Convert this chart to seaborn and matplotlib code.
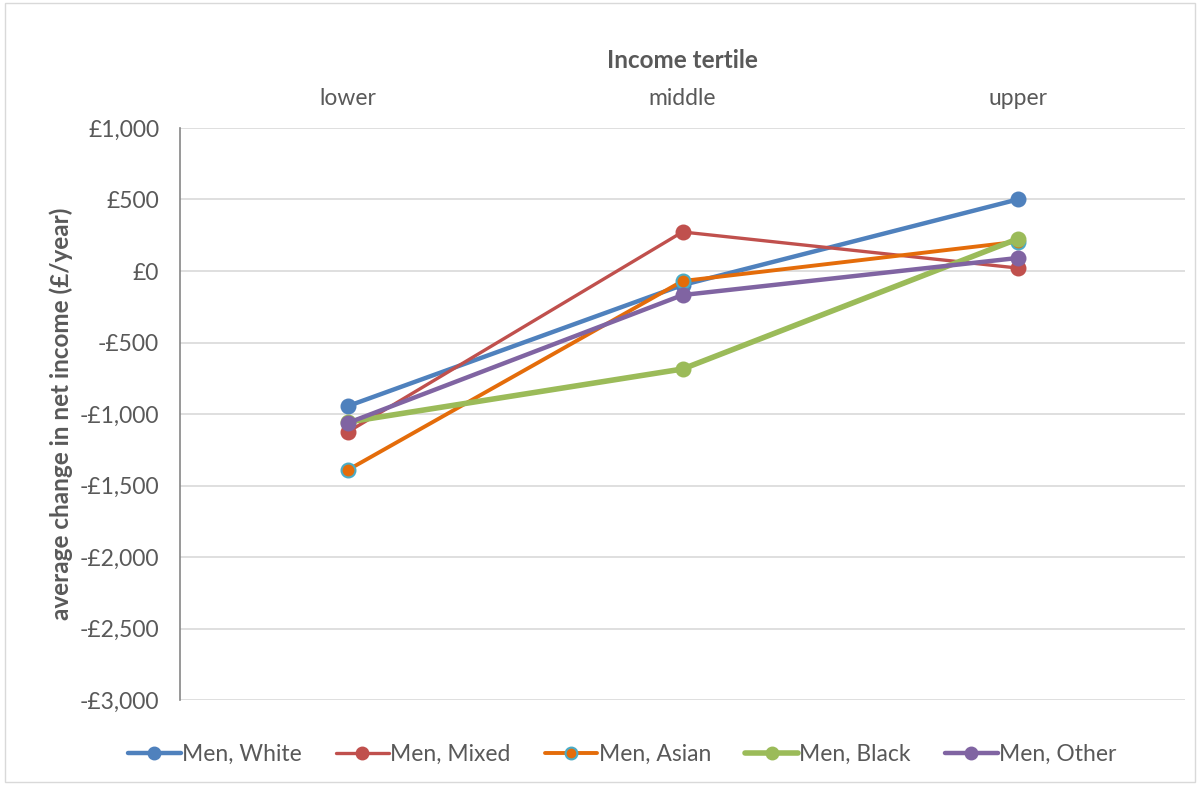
import pandas as pd
import matplotlib.pyplot as plt
import seaborn as sns

tertiles = ['lower', 'middle', 'upper']
groups = ['Men, White', 'Men, Mixed', 'Men, Asian', 'Men, Black', 'Men, Other']
white = [-945, -98, 500]
mixed = [-1126, 273, 21]
asian = [-1392, -70, 205]
black = [-1056, -685, 224]
other = [-1063, -168, 91]
yticks = [1000, 500, 0, -500, -1000, -1500, -2000, -2500, -3000]

values = [white, mixed, asian, black, other]
rows = []
for g, vals in zip(groups, values):
    for t, v in zip(tertiles, vals):
        rows.append({'tertile': t, 'group': g, 'value': v})
df = pd.DataFrame(rows)

sns.set_style('white')
plt.rcParams['font.family'] = ['Lato', 'DejaVu Sans']
grey = '#595959'

colors = ['#4F81BD', '#C0504D', '#E46C0A', '#9BBB59', '#8064A2']
widths = [3.2, 2.4, 2.8, 4.0, 3.2]
edges = ['#4F81BD', '#C0504D', '#4BACC6', '#9BBB59', '#8064A2']

fig = plt.figure(figsize=(12, 7.85), dpi=100)
ax = fig.add_axes([0.15, 0.108, 0.8375, 0.729])

for g, c, w, e in zip(groups, colors, widths, edges):
    sub = df[df['group'] == g]
    sns.lineplot(data=sub, x='tertile', y='value', ax=ax, color=c, linewidth=w,
                 marker='o', markersize=10, markerfacecolor=c, markeredgecolor=e,
                 markeredgewidth=1.5, label=g)

ax.set_xlim(-0.5, 2.5)
ax.set_ylim(-3000, 1000)
ax.set_yticks(yticks)
ax.set_yticklabels([('-' if v < 0 else '') + '£{:,}'.format(abs(v)) for v in yticks],
                   fontsize=16.5, color=grey)
ax.yaxis.grid(True, color='#D9D9D9', linewidth=1.2)
ax.xaxis.tick_top()
ax.xaxis.set_label_position('top')
ax.tick_params(axis='x', length=0, labelsize=16.5, labelcolor=grey, pad=14)
ax.tick_params(axis='y', length=0, pad=15)
ax.set_xlabel('Income tertile', fontsize=17.5, fontweight='bold', color=grey, labelpad=14)
ax.set_ylabel('average change in net income (£/year)', fontsize=17.5, fontweight='bold',
              color=grey, labelpad=5)
for s in ['top', 'right', 'bottom']:
    ax.spines[s].set_visible(False)
ax.spines['left'].set_color('#868686')
ax.spines['left'].set_linewidth(1.2)

leg = ax.legend(loc='upper center', bbox_to_anchor=(0.44, -0.04), ncol=5, frameon=False,
                fontsize=16.5, labelcolor=grey, handlelength=2.3, handletextpad=0.05,
                columnspacing=1.5, markerscale=0.85)

fig.patches.append(plt.Rectangle((0.004, 0.004), 0.992, 0.992, transform=fig.transFigure,
                                 fill=False, edgecolor='#D9D9D9', linewidth=1))

fig.savefig('out.png', dpi=100)
